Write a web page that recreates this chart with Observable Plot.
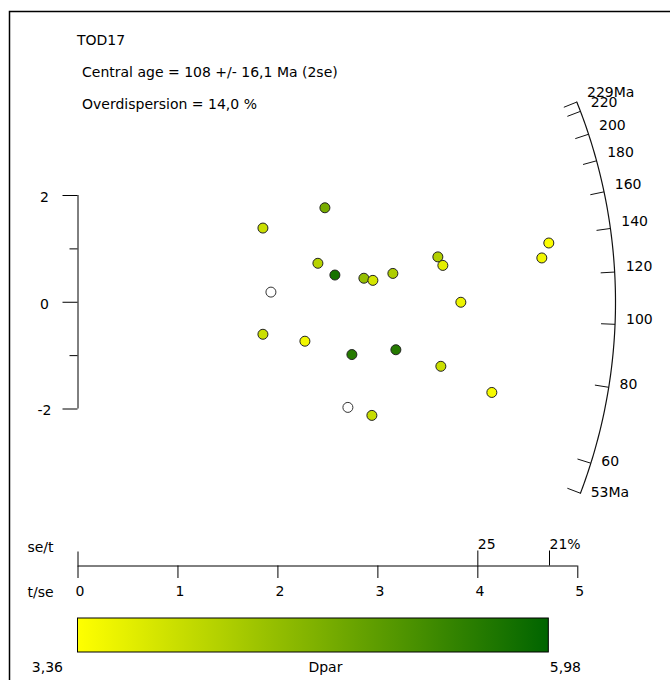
<!DOCTYPE html>
<html><head><meta charset="utf-8">
<script src="https://cdn.jsdelivr.net/npm/d3@7"></script>
<script src="https://cdn.jsdelivr.net/npm/@observablehq/plot@0.6"></script>
<style>body{margin:0;background:#fff;}</style>
</head><body><div id="chart"></div>
<script>
// ---------- data ----------
const sampleName = "TOD17";
const infoLines = ["Central age = 108 +/- 16,1 Ma (2se)", "Overdispersion = 14,0 %"];
const centralAge = 108;
// grain precision (t/se), standardised estimate, Dpar (null = no Dpar)
const grainX = [2.47, 1.85, 2.40, 2.57, 2.86, 2.95, 3.15, 3.60, 3.65, 1.93, 3.83, 1.85, 2.27, 2.74, 3.18, 3.63, 2.70, 2.94, 4.71, 4.64, 4.14];
const grainY = [1.77, 1.39, 0.73, 0.51, 0.45, 0.41, 0.54, 0.85, 0.69, 0.19, 0.00, -0.60, -0.73, -0.98, -0.89, -1.20, -1.97, -2.12, 1.11, 0.83, -1.69];
const grainDpar = [4.75, 3.9, 4.1, 5.75, 4.45, 3.8, 4.2, 4.15, 3.65, null, 3.55, 3.9, 3.5, 5.6, 5.6, 3.9, null, 3.95, 3.4, 3.5, 3.45];
const ageTicks = [53, 60, 80, 100, 120, 140, 160, 180, 200, 220, 229];
const ageLabels = ["53Ma", "60", "80", "100", "120", "140", "160", "180", "200", "220", "229Ma"];
const yMajor = [-2, 0, 2];
const yMinor = [-1, 1];
const tseTicks = [0, 1, 2, 3, 4, 5];
const seTicks = [0.25, 0.212];
const seLabels = ["25", "21%"];
const dparDomain = [3.36, 5.98];
const dparLabels = ["3,36", "5,98"];
const dparTitle = "Dpar";
const colorRange = ["#ffff00", "#006400"];

// ---------- layout ----------
const W = 670, H = 680;
const xRange = [77.5, 577.3];
const yRange = [408.5, 195];
const xs = d3.scaleLinear([0, 5], xRange);
const ys = d3.scaleLinear([-2, 2], yRange);
const kx = xs(1) - xs(0);
const ky = ys(0) - ys(1);
const px2x = p => p / kx;
const px2y = p => p / ky;
const Y = p => ys.invert(p);
const arcR = 537.5;
const font = "DejaVu Sans, sans-serif";
const fs = 14;

const grains = grainX.map((x, i) => ({x, y: grainY[i], dpar: grainDpar[i]}));
const withDpar = grains.filter(d => d.dpar != null);
const noDpar = grains.filter(d => d.dpar == null);

const angleOf = age => Math.atan2(ky * Math.log(age / centralAge), kx);
const polar = (phi, r) => ({x: px2x(r * Math.cos(phi)), y: px2y(r * Math.sin(phi))});
const a0 = angleOf(ageTicks[0]), a1 = angleOf(ageTicks[ageTicks.length - 1]);
const arc = d3.range(0, 121).map(i => polar(a0 + (a1 - a0) * i / 120, arcR));
const ageTickData = ageTicks.map((t, i) => {
  const phi = angleOf(t);
  const p = polar(phi, arcR), q = polar(phi, arcR - 14), l = polar(phi, arcR + 11);
  return {x1: p.x, y1: p.y, x2: q.x, y2: q.y, lx: l.x, ly: l.y, label: ageLabels[i]};
});

const lineY = Y(565.5);
const xMax = d3.max(grainX);

const colorScale = Plot.scale({color: {type: "linear", domain: dparDomain, range: colorRange, interpolate: "rgb"}});

const plot = Plot.plot({
  width: W, height: H,
  marginLeft: 0, marginRight: 0, marginTop: 0, marginBottom: 0,
  x: {domain: [0, 5], range: xRange, axis: null},
  y: {domain: [-2, 2], range: yRange, axis: null},
  color: {type: "linear", domain: dparDomain, range: colorRange, interpolate: "rgb"},
  style: {fontFamily: font, fontSize: fs + "px", color: "#000", background: "#fff"},
  marks: [
    // header text
    Plot.text([sampleName], {x: 0, y: Y(40), dx: -1, text: d => d, textAnchor: "start", fontSize: fs}),
    Plot.text(infoLines, {x: 0, y: (d, i) => Y(72 + 32 * i), dx: 4, text: d => d, textAnchor: "start", fontSize: fs}),
    // y axis
    Plot.ruleX([0], {y1: -2, y2: 2, stroke: "#000"}),
    Plot.ruleY(yMajor, {x1: -px2x(15), x2: 0, stroke: "#000"}),
    Plot.ruleY(yMinor, {x1: -px2x(8), x2: 0, stroke: "#000"}),
    Plot.text(yMajor, {x: 0, y: d => d, dx: -33.5, dy: 2, text: d => String(d).replace("−", "-"), textAnchor: "middle", fontSize: fs}),
    // age arc
    Plot.line(arc, {x: "x", y: "y", stroke: "#111", strokeWidth: 1.2}),
    Plot.link(ageTickData, {x1: "x1", y1: "y1", x2: "x2", y2: "y2", stroke: "#111"}),
    Plot.text(ageTickData, {x: "lx", y: "ly", text: "label", dy: -5, textAnchor: "start", fontSize: fs}),
    // grains
    Plot.dot(noDpar, {x: "x", y: "y", r: 5, fill: "#fff", stroke: "#333", strokeWidth: 1}),
    Plot.dot(withDpar, {x: "x", y: "y", r: 5, fill: "dpar", stroke: "#222", strokeWidth: 1}),
    // precision axis
    Plot.ruleY([lineY], {x1: 0, x2: 5, stroke: "#000"}),
    Plot.ruleX(tseTicks, {x: d => d, y1: lineY, y2: lineY - px2y(12.5), stroke: "#000"}),
    Plot.ruleX([0], {y1: lineY, y2: lineY + px2y(14), stroke: "#000"}),
    Plot.ruleX(seTicks, {x: d => 1 / d, y1: lineY, y2: lineY + px2y(15), stroke: "#000"}),
    Plot.text(tseTicks, {x: d => d, y: lineY, dy: 26, dx: 2, text: d => String(d), fontSize: fs}),
    Plot.text(seTicks, {x: d => 1 / d, y: lineY, dy: -21, dx: 0, text: (d, i) => seLabels[i], textAnchor: "start", fontSize: fs}),
    Plot.text(["se/t", "t/se"], {x: 0, y: (d, i) => i === 0 ? Y(547) : Y(592), dx: -37.5, text: d => d, textAnchor: "middle", fontSize: fs}),
    // Dpar colour legend
    Plot.rect([0], {x1: 0, x2: xMax, y1: Y(618), y2: Y(652), fill: "url(#dparGrad)", stroke: "#000", strokeWidth: 1}),
    Plot.text([dparLabels[0]], {x: 0, y: Y(667), dx: -15, text: d => d, textAnchor: "end", fontSize: fs}),
    Plot.text([dparLabels[1]], {x: xMax, y: Y(667), dx: 1, text: d => d, textAnchor: "start", fontSize: fs}),
    Plot.text([dparTitle], {x: xMax / 2, y: Y(667), dx: 12, text: d => d, textAnchor: "middle", fontSize: fs})
  ]
});

const svg = d3.select(plot);
const grad = svg.insert("defs", ":first-child").append("linearGradient")
  .attr("id", "dparGrad").attr("x1", "0%").attr("x2", "100%").attr("y1", "0%").attr("y2", "0%");
d3.range(0, 11).forEach(i => {
  const v = dparDomain[0] + (dparDomain[1] - dparDomain[0]) * i / 10;
  grad.append("stop").attr("offset", `${i * 10}%`).attr("stop-color", colorScale.apply(v));
});
svg.append("path").attr("d", `M9.5,${H}V11.5H${W}`).attr("fill", "none").attr("stroke", "#000").attr("stroke-width", 1.5);

document.getElementById("chart").appendChild(plot);
</script>
</body></html>
